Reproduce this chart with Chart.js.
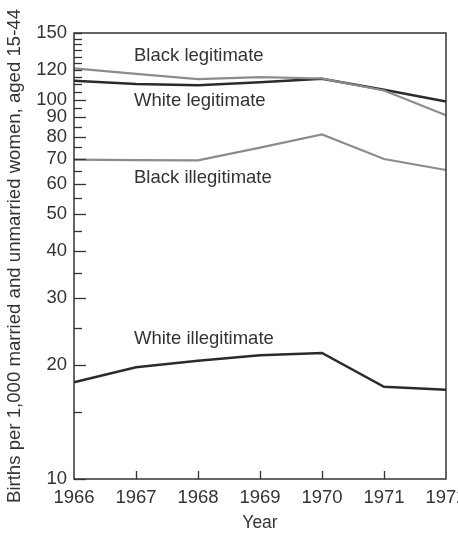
<!DOCTYPE html>
<html>
<head>
<meta charset="utf-8">
<script src="https://cdn.jsdelivr.net/npm/chart.js@4/dist/chart.umd.min.js"></script>
<style>
  html, body { margin: 0; padding: 0; background: #fff; }
  #wrap { width: 458px; height: 535px; }
</style>
</head>
<body>
<div id="wrap"><canvas id="c"></canvas></div>
<script>
// data (log scale)
const years = ["1966", "1967", "1968", "1969", "1970", "1971", "1972"];
const blackLegit = [121, 117, 113.4, 114.7, 113.8, 105.8, 91];
const whiteLegit = [112.2, 110, 109.3, 111.3, 113.6, 106.3, 99];
const blackIllegit = [69.5, 69.3, 69.2, 74.8, 81, 69.8, 65.3];
const whiteIllegit = [18, 19.7, 20.5, 21.2, 21.5, 17.5, 17.2];

const yTicks = [10, 15, 20, 25, 30, 35, 40, 45, 50, 55, 60, 65, 70, 75, 80, 85, 90, 95,
  100, 105, 110, 115, 120, 125, 130, 135, 140, 145, 150];
const yLabels = [10, 20, 30, 40, 50, 60, 70, 80, 90, 100, 120, 150];

// line labels: [text, year index, value]
const seriesLabels = [
  ["Black legitimate", 1, 130.6],
  ["White legitimate", 1, 99.4],
  ["Black illegitimate", 1, 62.3],
  ["White illegitimate", 1, 23.4]
];

const ink = "#333";
const grey = "#8c8c8c";
const fontFam = "'Liberation Sans', Arial, Helvetica, sans-serif";

// frame, inward ticks, series labels
const decor = {
  id: "decor",
  afterDraw(chart) {
    const ctx = chart.ctx;
    const a = chart.chartArea;
    const x = chart.scales.x, y = chart.scales.y;
    ctx.save();
    ctx.strokeStyle = ink;
    ctx.lineWidth = 1.5;
    ctx.strokeRect(a.left, a.top, a.right - a.left, a.bottom - a.top);

    ctx.lineWidth = 1.3;
    yTicks.forEach(v => {
      const py = Math.round(y.getPixelForValue(v)) + 0.5;
      const len = yLabels.includes(v) && v <= 100 ? 12 : 8;
      ctx.beginPath();
      ctx.moveTo(a.left, py);
      ctx.lineTo(a.left + len, py);
      ctx.stroke();
    });
    for (let i = 1; i < years.length - 1; i++) {
      const px = Math.round(x.getPixelForValue(i)) + 0.5;
      ctx.beginPath();
      ctx.moveTo(px, a.bottom);
      ctx.lineTo(px, a.bottom - 8);
      ctx.stroke();
    }

    ctx.fillStyle = ink;
    ctx.font = "18.5px " + fontFam;
    ctx.textBaseline = "middle";
    ctx.textAlign = "left";
    seriesLabels.forEach(l => {
      ctx.fillText(l[0], x.getPixelForValue(l[1]) - 2, y.getPixelForValue(l[2]));
    });
    ctx.restore();
  }
};

new Chart(document.getElementById("c"), {
  type: "line",
  data: {
    labels: years,
    datasets: [
      { label: "Black legitimate", data: blackLegit, borderColor: grey, borderWidth: 2.2 },
      { label: "White legitimate", data: whiteLegit, borderColor: "#2b2b2b", borderWidth: 2.5 },
      { label: "Black illegitimate", data: blackIllegit, borderColor: grey, borderWidth: 2.2 },
      { label: "White illegitimate", data: whiteIllegit, borderColor: "#2b2b2b", borderWidth: 2.5 }
    ]
  },
  options: {
    responsive: true,
    maintainAspectRatio: false,
    animation: false,
    elements: { point: { radius: 0 }, line: { tension: 0, fill: false } },
    layout: { padding: { top: 33, right: 12, left: 0, bottom: 0 } },
    plugins: { legend: { display: false }, tooltip: { enabled: false } },
    scales: {
      x: {
        type: "category",
        offset: false,
        grid: { display: false, drawTicks: false },
        border: { display: false },
        ticks: { color: ink, font: { family: fontFam, size: 18.5 }, padding: 8, maxRotation: 0, autoSkip: false },
        title: { display: true, text: "Year", color: ink, font: { family: fontFam, size: 17.5 }, padding: { top: 0, bottom: 1 } },
        afterFit(s) { s.height = 56; s.paddingLeft = 0; s.paddingRight = 0; }
      },
      y: {
        type: "logarithmic",
        min: 10,
        max: 150,
        grid: { display: false, drawTicks: false },
        border: { display: false },
        afterBuildTicks(s) { s.ticks = yTicks.map(v => ({ value: v })); },
        ticks: {
          color: ink,
          font: { family: fontFam, size: 18.5 },
          padding: 7,
          autoSkip: false,
          callback: v => yLabels.includes(v) ? String(v) : ""
        },
        title: {
          display: true,
          text: "Births per 1,000 married and unmarried women, aged 15-44",
          color: ink,
          font: { family: fontFam, size: 18.6 },
          padding: { top: 4, bottom: 0 }
        },
        afterFit(s) { s.width = 74; s.paddingTop = 0; s.paddingBottom = 0; }
      }
    }
  },
  plugins: [decor]
});
</script>
</body>
</html>
